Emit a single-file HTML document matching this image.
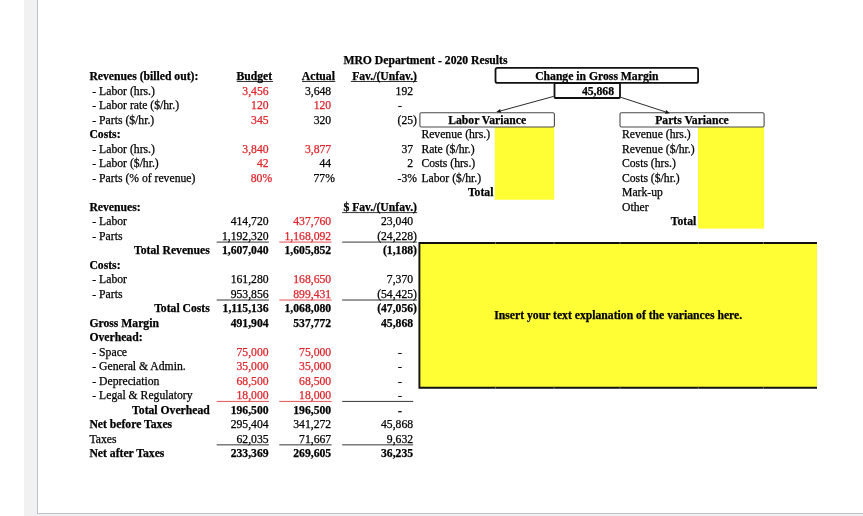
<!DOCTYPE html>
<html><head><meta charset="utf-8"><title>MRO Department - 2020 Results</title>
<style>
html,body{margin:0;padding:0;background:#fff;width:863px;height:516px;overflow:hidden;}
svg{display:block;will-change:transform;}
text{font-family:"Liberation Serif",serif;font-size:11.68px;white-space:pre;fill:#000;stroke:#000;stroke-width:0.25px;}
text.r{fill:#e0232a;stroke:#e0232a;}
</style></head><body>
<svg width="863" height="516" viewBox="0 0 863 516">
<rect x="24" y="0" width="13" height="516" fill="#f1f1f1"/>
<rect x="37" y="514" width="826" height="2" fill="#f1f1f1"/>
<rect x="24" y="514" width="13" height="2" fill="#f1f1f1"/>
<rect x="37" y="0" width="1" height="514" fill="#bfc3cb"/>
<rect x="37" y="513" width="826" height="1" fill="#bfc3cb"/>
<rect x="494.8" y="127.0" width="59.4" height="72.7" fill="#fffd33"/>
<rect x="698.0" y="127.0" width="66.1" height="101.6" fill="#fffd33"/>
<rect x="419.4" y="243.0" width="397.6" height="144.6" fill="#fffd33"/>
<path d="M817 243.0 H419.4 V387.7 H817" fill="none" stroke="#111" stroke-width="1.9"/>
<rect x="495.15" y="242.05" width="0.7" height="1.9" fill="#8a8a70"/>
<rect x="495.15" y="386.75" width="0.7" height="1.9" fill="#8a8a70"/>
<rect x="553.65" y="242.05" width="0.7" height="1.9" fill="#8a8a70"/>
<rect x="553.65" y="386.75" width="0.7" height="1.9" fill="#8a8a70"/>
<rect x="619.65" y="242.05" width="0.7" height="1.9" fill="#8a8a70"/>
<rect x="619.65" y="386.75" width="0.7" height="1.9" fill="#8a8a70"/>
<rect x="697.85" y="242.05" width="0.7" height="1.9" fill="#8a8a70"/>
<rect x="697.85" y="386.75" width="0.7" height="1.9" fill="#8a8a70"/>
<rect x="763.25" y="242.05" width="0.7" height="1.9" fill="#8a8a70"/>
<rect x="763.25" y="386.75" width="0.7" height="1.9" fill="#8a8a70"/>
<rect x="419.9" y="112.7" width="134.5" height="14.3" rx="1.5" fill="none" stroke="#4a4a4a" stroke-width="1.1"/>
<rect x="620.0" y="112.7" width="144.1" height="14.3" rx="1.5" fill="none" stroke="#4a4a4a" stroke-width="1.1"/>
<rect x="495.5" y="67.9" width="202.6" height="15.0" rx="2" fill="#fff" stroke="#111" stroke-width="1.8"/>
<rect x="554.5" y="83.0" width="65.5" height="15.0" rx="1" fill="#fff" stroke="#111" stroke-width="1.8"/>
<line x1="553.6" y1="96.4" x2="500.64" y2="110.91" stroke="#111" stroke-width="0.9"/>
<path d="M496.30 112.10 L500.14 109.08 L501.14 112.74 Z" fill="#111"/>
<line x1="620.8" y1="97.3" x2="665.52" y2="111.90" stroke="#111" stroke-width="0.9"/>
<path d="M669.80 113.30 L664.93 113.71 L666.11 110.10 Z" fill="#111"/>
<line x1="216.7" y1="242.09" x2="268.9" y2="242.09" stroke="#000" stroke-width="0.8"/>
<line x1="279.3" y1="242.09" x2="331.6" y2="242.09" stroke="#e0232a" stroke-width="0.8"/>
<line x1="342.2" y1="242.09" x2="416.9" y2="242.09" stroke="#000" stroke-width="0.8"/>
<line x1="216.7" y1="300.03" x2="268.9" y2="300.03" stroke="#000" stroke-width="0.8"/>
<line x1="279.3" y1="300.03" x2="331.6" y2="300.03" stroke="#e0232a" stroke-width="0.8"/>
<line x1="342.2" y1="300.03" x2="416.9" y2="300.03" stroke="#000" stroke-width="0.8"/>
<line x1="216.7" y1="401.41" x2="268.9" y2="401.41" stroke="#e0232a" stroke-width="0.8"/>
<line x1="279.3" y1="401.41" x2="331.6" y2="401.41" stroke="#e0232a" stroke-width="0.8"/>
<line x1="342.2" y1="401.41" x2="413.2" y2="401.41" stroke="#000" stroke-width="0.8"/>
<line x1="216.7" y1="444.87" x2="268.9" y2="444.87" stroke="#000" stroke-width="0.8"/>
<line x1="279.3" y1="444.87" x2="331.6" y2="444.87" stroke="#000" stroke-width="0.8"/>
<line x1="342.2" y1="444.87" x2="413.2" y2="444.87" stroke="#000" stroke-width="0.8"/>
<line x1="236.8" y1="81.5" x2="273.0" y2="81.5" stroke="#000" stroke-width="0.8"/>
<line x1="302.0" y1="81.5" x2="335.3" y2="81.5" stroke="#000" stroke-width="0.8"/>
<line x1="350.9" y1="81.5" x2="417.2" y2="81.5" stroke="#000" stroke-width="0.8"/>
<line x1="342.0" y1="212.6" x2="417.2" y2="212.6" stroke="#000" stroke-width="0.8"/>
<text x="343.40" y="64.20" font-weight="bold">MRO Department <tspan dy="1">-</tspan><tspan dy="-1"> 2020 Results</tspan></text>
<text x="89.40" y="79.80" font-weight="bold">Revenues (billed out):</text>
<text x="272.20" y="79.80" text-anchor="end" font-weight="bold">Budget</text>
<text x="334.90" y="79.80" text-anchor="end" font-weight="bold">Actual</text>
<text x="417.00" y="79.80" text-anchor="end" font-weight="bold">Fav./(Unfav.)</text>
<text x="89.40" y="95.00"> <tspan dy="1">-</tspan><tspan dy="-1"> Labor (hrs.)</tspan></text>
<text x="268.60" y="95.00" text-anchor="end" class="r">3,456</text>
<text x="331.20" y="95.00" text-anchor="end">3,648</text>
<text x="413.10" y="95.00" text-anchor="end">192</text>
<text x="89.40" y="109.48"> <tspan dy="1">-</tspan><tspan dy="-1"> Labor rate ($/hr.)</tspan></text>
<text x="268.60" y="109.48" text-anchor="end" class="r">120</text>
<text x="331.20" y="109.48" text-anchor="end" class="r">120</text>
<text x="397.90" y="109.48"><tspan dy="1">-</tspan></text>
<text x="89.40" y="123.97"> <tspan dy="1">-</tspan><tspan dy="-1"> Parts ($/hr.)</tspan></text>
<text x="268.60" y="123.97" text-anchor="end" class="r">345</text>
<text x="331.20" y="123.97" text-anchor="end">320</text>
<text x="417.00" y="123.97" text-anchor="end">(25)</text>
<text x="89.40" y="138.45" font-weight="bold">Costs:</text>
<text x="89.40" y="152.94"> <tspan dy="1">-</tspan><tspan dy="-1"> Labor (hrs.)</tspan></text>
<text x="268.60" y="152.94" text-anchor="end" class="r">3,840</text>
<text x="331.20" y="152.94" text-anchor="end" class="r">3,877</text>
<text x="413.10" y="152.94" text-anchor="end">37</text>
<text x="89.40" y="167.42"> <tspan dy="1">-</tspan><tspan dy="-1"> Labor ($/hr.)</tspan></text>
<text x="268.60" y="167.42" text-anchor="end" class="r">42</text>
<text x="331.20" y="167.42" text-anchor="end">44</text>
<text x="413.10" y="167.42" text-anchor="end">2</text>
<text x="89.40" y="181.90"> <tspan dy="1">-</tspan><tspan dy="-1"> Parts (% of revenue)</tspan></text>
<text x="272.20" y="181.90" text-anchor="end" class="r">80%</text>
<text x="334.90" y="181.90" text-anchor="end">77%</text>
<text x="417.00" y="181.90" text-anchor="end"><tspan dy="1">-</tspan><tspan dy="-1">3%</tspan></text>
<text x="89.40" y="210.87" font-weight="bold">Revenues:</text>
<text x="417.00" y="210.87" text-anchor="end" font-weight="bold">$ Fav./(Unfav.)</text>
<text x="89.40" y="225.36"> <tspan dy="1">-</tspan><tspan dy="-1"> Labor</tspan></text>
<text x="268.60" y="225.36" text-anchor="end">414,720</text>
<text x="331.20" y="225.36" text-anchor="end" class="r">437,760</text>
<text x="413.10" y="225.36" text-anchor="end">23,040</text>
<text x="89.40" y="239.84"> <tspan dy="1">-</tspan><tspan dy="-1"> Parts</tspan></text>
<text x="268.60" y="239.84" text-anchor="end">1,192,320</text>
<text x="331.20" y="239.84" text-anchor="end" class="r">1,168,092</text>
<text x="417.00" y="239.84" text-anchor="end">(24,228)</text>
<text x="209.80" y="254.32" text-anchor="end" font-weight="bold">Total Revenues</text>
<text x="268.60" y="254.32" text-anchor="end" font-weight="bold">1,607,040</text>
<text x="331.20" y="254.32" text-anchor="end" font-weight="bold">1,605,852</text>
<text x="417.00" y="254.32" text-anchor="end" font-weight="bold">(1,188)</text>
<text x="89.40" y="268.81" font-weight="bold">Costs:</text>
<text x="89.40" y="283.29"> <tspan dy="1">-</tspan><tspan dy="-1"> Labor</tspan></text>
<text x="268.60" y="283.29" text-anchor="end">161,280</text>
<text x="331.20" y="283.29" text-anchor="end" class="r">168,650</text>
<text x="413.10" y="283.29" text-anchor="end">7,370</text>
<text x="89.40" y="297.78"> <tspan dy="1">-</tspan><tspan dy="-1"> Parts</tspan></text>
<text x="268.60" y="297.78" text-anchor="end">953,856</text>
<text x="331.20" y="297.78" text-anchor="end" class="r">899,431</text>
<text x="417.00" y="297.78" text-anchor="end">(54,425)</text>
<text x="209.80" y="312.26" text-anchor="end" font-weight="bold">Total Costs</text>
<text x="268.60" y="312.26" text-anchor="end" font-weight="bold">1,115,136</text>
<text x="331.20" y="312.26" text-anchor="end" font-weight="bold">1,068,080</text>
<text x="417.00" y="312.26" text-anchor="end" font-weight="bold">(47,056)</text>
<text x="89.40" y="326.74" font-weight="bold">Gross Margin</text>
<text x="268.60" y="326.74" text-anchor="end" font-weight="bold">491,904</text>
<text x="331.20" y="326.74" text-anchor="end" font-weight="bold">537,772</text>
<text x="413.10" y="326.74" text-anchor="end" font-weight="bold">45,868</text>
<text x="89.40" y="341.23" font-weight="bold">Overhead:</text>
<text x="89.40" y="355.71"> <tspan dy="1">-</tspan><tspan dy="-1"> Space</tspan></text>
<text x="268.60" y="355.71" text-anchor="end" class="r">75,000</text>
<text x="331.20" y="355.71" text-anchor="end" class="r">75,000</text>
<text x="397.90" y="355.71"><tspan dy="1">-</tspan></text>
<text x="89.40" y="370.20"> <tspan dy="1">-</tspan><tspan dy="-1"> General &amp; Admin.</tspan></text>
<text x="268.60" y="370.20" text-anchor="end" class="r">35,000</text>
<text x="331.20" y="370.20" text-anchor="end" class="r">35,000</text>
<text x="397.90" y="370.20"><tspan dy="1">-</tspan></text>
<text x="89.40" y="384.68"> <tspan dy="1">-</tspan><tspan dy="-1"> Depreciation</tspan></text>
<text x="268.60" y="384.68" text-anchor="end" class="r">68,500</text>
<text x="331.20" y="384.68" text-anchor="end" class="r">68,500</text>
<text x="397.90" y="384.68"><tspan dy="1">-</tspan></text>
<text x="89.40" y="399.16"> <tspan dy="1">-</tspan><tspan dy="-1"> Legal &amp; Regulatory</tspan></text>
<text x="268.60" y="399.16" text-anchor="end" class="r">18,000</text>
<text x="331.20" y="399.16" text-anchor="end" class="r">18,000</text>
<text x="397.90" y="399.16"><tspan dy="1">-</tspan></text>
<text x="209.80" y="413.65" text-anchor="end" font-weight="bold">Total Overhead</text>
<text x="268.60" y="413.65" text-anchor="end" font-weight="bold">196,500</text>
<text x="331.20" y="413.65" text-anchor="end" font-weight="bold">196,500</text>
<text x="397.90" y="413.65" font-weight="bold"><tspan dy="1">-</tspan></text>
<text x="89.40" y="428.13" font-weight="bold">Net before Taxes</text>
<text x="268.60" y="428.13" text-anchor="end">295,404</text>
<text x="331.20" y="428.13" text-anchor="end">341,272</text>
<text x="413.10" y="428.13" text-anchor="end">45,868</text>
<text x="89.40" y="442.62">Taxes</text>
<text x="268.60" y="442.62" text-anchor="end">62,035</text>
<text x="331.20" y="442.62" text-anchor="end">71,667</text>
<text x="413.10" y="442.62" text-anchor="end">9,632</text>
<text x="89.40" y="457.10" font-weight="bold">Net after Taxes</text>
<text x="268.60" y="457.10" text-anchor="end" font-weight="bold">233,369</text>
<text x="331.20" y="457.10" text-anchor="end" font-weight="bold">269,605</text>
<text x="413.10" y="457.10" text-anchor="end" font-weight="bold">36,235</text>
<text x="487.20" y="123.97" text-anchor="middle" font-weight="bold">Labor Variance</text>
<text x="421.40" y="138.45">Revenue (hrs.)</text>
<text x="421.40" y="152.94">Rate ($/hr.)</text>
<text x="421.40" y="167.42">Costs (hrs.)</text>
<text x="421.40" y="181.90">Labor ($/hr.)</text>
<text x="493.40" y="196.39" text-anchor="end" font-weight="bold">Total</text>
<text x="692.00" y="123.97" text-anchor="middle" font-weight="bold">Parts Variance</text>
<text x="622.00" y="138.45">Revenue (hrs.)</text>
<text x="622.00" y="152.94">Revenue ($/hr.)</text>
<text x="622.00" y="167.42">Costs (hrs.)</text>
<text x="622.00" y="181.90">Costs ($/hr.)</text>
<text x="622.00" y="196.39">Mark<tspan dy="1">-</tspan><tspan dy="-1">up</tspan></text>
<text x="622.00" y="210.87">Other</text>
<text x="696.30" y="225.36" text-anchor="end" font-weight="bold">Total</text>
<text x="596.80" y="79.50" text-anchor="middle" font-weight="bold">Change in Gross Margin</text>
<text x="614.00" y="94.60" text-anchor="end" font-weight="bold">45,868</text>
<text x="618.20" y="319.30" text-anchor="middle" font-weight="bold">Insert your text explanation of the variances here.</text>
</svg>
</body></html>
